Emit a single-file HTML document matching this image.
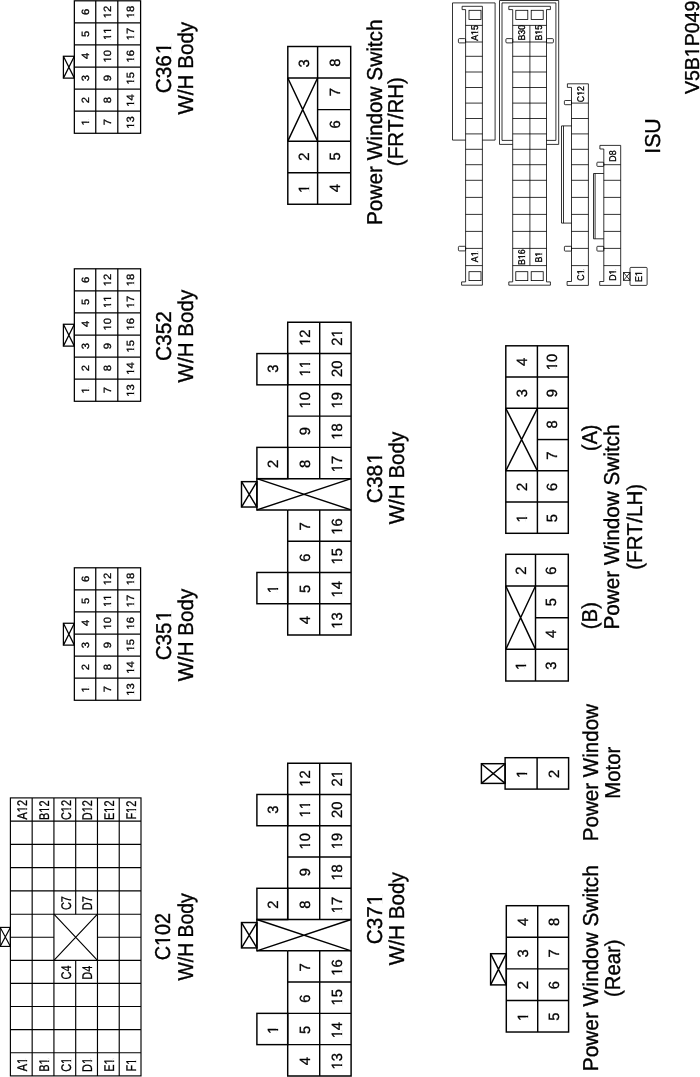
<!DOCTYPE html>
<html><head><meta charset="utf-8"><title>Connector configurations</title>
<style>
html,body{margin:0;padding:0;background:#fff;}
body{width:700px;height:1077px;overflow:hidden;font-family:"Liberation Sans",sans-serif;}
svg{display:block;will-change:transform;opacity:0.999;}
.m{fill:none;stroke:#000;stroke-width:1.45;stroke-linecap:butt;}
.w{fill:#fff;}
.x{stroke-linecap:butt;}
.g1 .m{stroke-width:1.15;}
.g2 .m{stroke-width:1.25;}
.k{fill:#fff;stroke:none;}
.i{fill:none;stroke:#000;stroke-width:0.8;}
text{font-family:"Liberation Sans",sans-serif;fill:#000;font-kerning:none;stroke:#000;stroke-width:0.36;text-rendering:geometricPrecision;}
.d{stroke-width:0.3;}
.e{stroke-width:0.34;}
</style></head><body>
<svg width="700" height="1077" viewBox="0 0 700 1077">
<rect x="0" y="0" width="700" height="1077" fill="#fff"/>
<g class="g2">
<rect class="m" x="74.35" y="0.80" width="66.25" height="132.48"/>
<path class="m" d="M95.75 0.80L95.75 133.28"/>
<path class="m" d="M117.80 0.80L117.80 133.28"/>
<path class="m" d="M74.35 22.88L140.60 22.88"/>
<path class="m" d="M74.35 44.96L140.60 44.96"/>
<path class="m" d="M74.35 67.04L140.60 67.04"/>
<path class="m" d="M74.35 89.12L140.60 89.12"/>
<path class="m" d="M74.35 111.20L140.60 111.20"/>
<rect class="m" x="63.40" y="56.26" width="10.95" height="21.86"/>
<path class="m x" d="M63.40 56.26L74.35 78.12M63.40 78.12L74.35 56.26"/>
<g transform="translate(89.03 125.52) rotate(-90) scale(1.0700 1)"><text class="d" font-size="10.5">1</text><rect class="k" x="0.21" y="-1.63" width="2.23" height="2.58"/><rect class="k" x="3.77" y="-1.63" width="2.07" height="2.58"/></g>
<g transform="translate(89.03 103.28) rotate(-90) scale(1.0700 1)"><text class="d" font-size="10.5">2</text></g>
<g transform="translate(89.03 81.17) rotate(-90) scale(1.0700 1)"><text class="d" font-size="10.5">3</text></g>
<g transform="translate(89.03 59.09) rotate(-90) scale(1.0700 1)"><text class="d" font-size="10.5">4</text></g>
<g transform="translate(89.03 37.03) rotate(-90) scale(1.0700 1)"><text class="d" font-size="10.5">5</text></g>
<g transform="translate(89.03 15.00) rotate(-90) scale(1.0700 1)"><text class="d" font-size="10.5">6</text></g>
<g transform="translate(111.46 125.37) rotate(-90) scale(1.0700 1)"><text class="d" font-size="10.5">7</text></g>
<g transform="translate(111.46 103.28) rotate(-90) scale(1.0700 1)"><text class="d" font-size="10.5">8</text></g>
<g transform="translate(111.46 81.20) rotate(-90) scale(1.0700 1)"><text class="d" font-size="10.5">9</text></g>
<g transform="translate(111.46 62.45) rotate(-90) scale(1.0700 1)"><text class="d" font-size="10.5">10</text><rect class="k" x="0.21" y="-1.63" width="2.23" height="2.58"/><rect class="k" x="3.77" y="-1.63" width="2.07" height="2.58"/></g>
<g transform="translate(111.46 39.90) rotate(-90) scale(1.0700 1)"><text class="d" font-size="10.5">11</text><rect class="k" x="0.21" y="-1.63" width="2.23" height="2.58"/><rect class="k" x="3.77" y="-1.63" width="2.07" height="2.58"/><rect class="k" x="6.05" y="-1.63" width="2.23" height="2.58"/><rect class="k" x="9.61" y="-1.63" width="2.07" height="2.58"/></g>
<g transform="translate(111.46 18.23) rotate(-90) scale(1.0700 1)"><text class="d" font-size="10.5">12</text><rect class="k" x="0.21" y="-1.63" width="2.23" height="2.58"/><rect class="k" x="3.77" y="-1.63" width="2.07" height="2.58"/></g>
<g transform="translate(133.68 128.67) rotate(-90) scale(1.0700 1)"><text class="d" font-size="10.5">13</text><rect class="k" x="0.21" y="-1.63" width="2.23" height="2.58"/><rect class="k" x="3.77" y="-1.63" width="2.07" height="2.58"/></g>
<g transform="translate(133.68 106.67) rotate(-90) scale(1.0700 1)"><text class="d" font-size="10.5">14</text><rect class="k" x="0.21" y="-1.63" width="2.23" height="2.58"/><rect class="k" x="3.77" y="-1.63" width="2.07" height="2.58"/></g>
<g transform="translate(133.68 84.52) rotate(-90) scale(1.0700 1)"><text class="d" font-size="10.5">15</text><rect class="k" x="0.21" y="-1.63" width="2.23" height="2.58"/><rect class="k" x="3.77" y="-1.63" width="2.07" height="2.58"/></g>
<g transform="translate(133.68 62.43) rotate(-90) scale(1.0700 1)"><text class="d" font-size="10.5">16</text><rect class="k" x="0.21" y="-1.63" width="2.23" height="2.58"/><rect class="k" x="3.77" y="-1.63" width="2.07" height="2.58"/></g>
<g transform="translate(133.68 40.31) rotate(-90) scale(1.0700 1)"><text class="d" font-size="10.5">17</text><rect class="k" x="0.21" y="-1.63" width="2.23" height="2.58"/><rect class="k" x="3.77" y="-1.63" width="2.07" height="2.58"/></g>
<g transform="translate(133.68 18.27) rotate(-90) scale(1.0700 1)"><text class="d" font-size="10.5">18</text><rect class="k" x="0.21" y="-1.63" width="2.23" height="2.58"/><rect class="k" x="3.77" y="-1.63" width="2.07" height="2.58"/></g>
<g transform="translate(170.70 93.36) rotate(-90) scale(0.9696 1)"><text class="t" font-size="21.5">C36<tspan dx="1.07">1</tspan></text><rect class="k" x="40.95" y="-2.49" width="4.75" height="3.47"/><rect class="k" x="48.05" y="-2.49" width="4.42" height="3.47"/></g>
<g transform="translate(192.80 114.60) rotate(-90) scale(0.9584 1)"><text class="t" font-size="21.5">W/H Body</text></g>
<rect class="m" x="74.35" y="268.80" width="66.25" height="132.48"/>
<path class="m" d="M95.75 268.80L95.75 401.28"/>
<path class="m" d="M117.80 268.80L117.80 401.28"/>
<path class="m" d="M74.35 290.88L140.60 290.88"/>
<path class="m" d="M74.35 312.96L140.60 312.96"/>
<path class="m" d="M74.35 335.04L140.60 335.04"/>
<path class="m" d="M74.35 357.12L140.60 357.12"/>
<path class="m" d="M74.35 379.20L140.60 379.20"/>
<rect class="m" x="63.40" y="324.26" width="10.95" height="21.86"/>
<path class="m x" d="M63.40 324.26L74.35 346.12M63.40 346.12L74.35 324.26"/>
<g transform="translate(89.03 393.52) rotate(-90) scale(1.0700 1)"><text class="d" font-size="10.5">1</text><rect class="k" x="0.21" y="-1.63" width="2.23" height="2.58"/><rect class="k" x="3.77" y="-1.63" width="2.07" height="2.58"/></g>
<g transform="translate(89.03 371.28) rotate(-90) scale(1.0700 1)"><text class="d" font-size="10.5">2</text></g>
<g transform="translate(89.03 349.17) rotate(-90) scale(1.0700 1)"><text class="d" font-size="10.5">3</text></g>
<g transform="translate(89.03 327.09) rotate(-90) scale(1.0700 1)"><text class="d" font-size="10.5">4</text></g>
<g transform="translate(89.03 305.03) rotate(-90) scale(1.0700 1)"><text class="d" font-size="10.5">5</text></g>
<g transform="translate(89.03 283.00) rotate(-90) scale(1.0700 1)"><text class="d" font-size="10.5">6</text></g>
<g transform="translate(111.46 393.37) rotate(-90) scale(1.0700 1)"><text class="d" font-size="10.5">7</text></g>
<g transform="translate(111.46 371.28) rotate(-90) scale(1.0700 1)"><text class="d" font-size="10.5">8</text></g>
<g transform="translate(111.46 349.20) rotate(-90) scale(1.0700 1)"><text class="d" font-size="10.5">9</text></g>
<g transform="translate(111.46 330.45) rotate(-90) scale(1.0700 1)"><text class="d" font-size="10.5">10</text><rect class="k" x="0.21" y="-1.63" width="2.23" height="2.58"/><rect class="k" x="3.77" y="-1.63" width="2.07" height="2.58"/></g>
<g transform="translate(111.46 307.90) rotate(-90) scale(1.0700 1)"><text class="d" font-size="10.5">11</text><rect class="k" x="0.21" y="-1.63" width="2.23" height="2.58"/><rect class="k" x="3.77" y="-1.63" width="2.07" height="2.58"/><rect class="k" x="6.05" y="-1.63" width="2.23" height="2.58"/><rect class="k" x="9.61" y="-1.63" width="2.07" height="2.58"/></g>
<g transform="translate(111.46 286.23) rotate(-90) scale(1.0700 1)"><text class="d" font-size="10.5">12</text><rect class="k" x="0.21" y="-1.63" width="2.23" height="2.58"/><rect class="k" x="3.77" y="-1.63" width="2.07" height="2.58"/></g>
<g transform="translate(133.68 396.67) rotate(-90) scale(1.0700 1)"><text class="d" font-size="10.5">13</text><rect class="k" x="0.21" y="-1.63" width="2.23" height="2.58"/><rect class="k" x="3.77" y="-1.63" width="2.07" height="2.58"/></g>
<g transform="translate(133.68 374.67) rotate(-90) scale(1.0700 1)"><text class="d" font-size="10.5">14</text><rect class="k" x="0.21" y="-1.63" width="2.23" height="2.58"/><rect class="k" x="3.77" y="-1.63" width="2.07" height="2.58"/></g>
<g transform="translate(133.68 352.52) rotate(-90) scale(1.0700 1)"><text class="d" font-size="10.5">15</text><rect class="k" x="0.21" y="-1.63" width="2.23" height="2.58"/><rect class="k" x="3.77" y="-1.63" width="2.07" height="2.58"/></g>
<g transform="translate(133.68 330.43) rotate(-90) scale(1.0700 1)"><text class="d" font-size="10.5">16</text><rect class="k" x="0.21" y="-1.63" width="2.23" height="2.58"/><rect class="k" x="3.77" y="-1.63" width="2.07" height="2.58"/></g>
<g transform="translate(133.68 308.31) rotate(-90) scale(1.0700 1)"><text class="d" font-size="10.5">17</text><rect class="k" x="0.21" y="-1.63" width="2.23" height="2.58"/><rect class="k" x="3.77" y="-1.63" width="2.07" height="2.58"/></g>
<g transform="translate(133.68 286.27) rotate(-90) scale(1.0700 1)"><text class="d" font-size="10.5">18</text><rect class="k" x="0.21" y="-1.63" width="2.23" height="2.58"/><rect class="k" x="3.77" y="-1.63" width="2.07" height="2.58"/></g>
<g transform="translate(170.70 361.07) rotate(-90) scale(0.9733 1)"><text class="t" font-size="21.5">C352</text></g>
<g transform="translate(192.80 382.40) rotate(-90) scale(0.9573 1)"><text class="t" font-size="21.5">W/H Body</text></g>
<rect class="m" x="74.35" y="567.80" width="66.25" height="132.48"/>
<path class="m" d="M95.75 567.80L95.75 700.28"/>
<path class="m" d="M117.80 567.80L117.80 700.28"/>
<path class="m" d="M74.35 589.88L140.60 589.88"/>
<path class="m" d="M74.35 611.96L140.60 611.96"/>
<path class="m" d="M74.35 634.04L140.60 634.04"/>
<path class="m" d="M74.35 656.12L140.60 656.12"/>
<path class="m" d="M74.35 678.20L140.60 678.20"/>
<rect class="m" x="63.40" y="623.26" width="10.95" height="21.86"/>
<path class="m x" d="M63.40 623.26L74.35 645.12M63.40 645.12L74.35 623.26"/>
<g transform="translate(89.03 692.52) rotate(-90) scale(1.0700 1)"><text class="d" font-size="10.5">1</text><rect class="k" x="0.21" y="-1.63" width="2.23" height="2.58"/><rect class="k" x="3.77" y="-1.63" width="2.07" height="2.58"/></g>
<g transform="translate(89.03 670.28) rotate(-90) scale(1.0700 1)"><text class="d" font-size="10.5">2</text></g>
<g transform="translate(89.03 648.17) rotate(-90) scale(1.0700 1)"><text class="d" font-size="10.5">3</text></g>
<g transform="translate(89.03 626.09) rotate(-90) scale(1.0700 1)"><text class="d" font-size="10.5">4</text></g>
<g transform="translate(89.03 604.03) rotate(-90) scale(1.0700 1)"><text class="d" font-size="10.5">5</text></g>
<g transform="translate(89.03 582.00) rotate(-90) scale(1.0700 1)"><text class="d" font-size="10.5">6</text></g>
<g transform="translate(111.46 692.37) rotate(-90) scale(1.0700 1)"><text class="d" font-size="10.5">7</text></g>
<g transform="translate(111.46 670.28) rotate(-90) scale(1.0700 1)"><text class="d" font-size="10.5">8</text></g>
<g transform="translate(111.46 648.20) rotate(-90) scale(1.0700 1)"><text class="d" font-size="10.5">9</text></g>
<g transform="translate(111.46 629.45) rotate(-90) scale(1.0700 1)"><text class="d" font-size="10.5">10</text><rect class="k" x="0.21" y="-1.63" width="2.23" height="2.58"/><rect class="k" x="3.77" y="-1.63" width="2.07" height="2.58"/></g>
<g transform="translate(111.46 606.90) rotate(-90) scale(1.0700 1)"><text class="d" font-size="10.5">11</text><rect class="k" x="0.21" y="-1.63" width="2.23" height="2.58"/><rect class="k" x="3.77" y="-1.63" width="2.07" height="2.58"/><rect class="k" x="6.05" y="-1.63" width="2.23" height="2.58"/><rect class="k" x="9.61" y="-1.63" width="2.07" height="2.58"/></g>
<g transform="translate(111.46 585.23) rotate(-90) scale(1.0700 1)"><text class="d" font-size="10.5">12</text><rect class="k" x="0.21" y="-1.63" width="2.23" height="2.58"/><rect class="k" x="3.77" y="-1.63" width="2.07" height="2.58"/></g>
<g transform="translate(133.68 695.67) rotate(-90) scale(1.0700 1)"><text class="d" font-size="10.5">13</text><rect class="k" x="0.21" y="-1.63" width="2.23" height="2.58"/><rect class="k" x="3.77" y="-1.63" width="2.07" height="2.58"/></g>
<g transform="translate(133.68 673.67) rotate(-90) scale(1.0700 1)"><text class="d" font-size="10.5">14</text><rect class="k" x="0.21" y="-1.63" width="2.23" height="2.58"/><rect class="k" x="3.77" y="-1.63" width="2.07" height="2.58"/></g>
<g transform="translate(133.68 651.52) rotate(-90) scale(1.0700 1)"><text class="d" font-size="10.5">15</text><rect class="k" x="0.21" y="-1.63" width="2.23" height="2.58"/><rect class="k" x="3.77" y="-1.63" width="2.07" height="2.58"/></g>
<g transform="translate(133.68 629.43) rotate(-90) scale(1.0700 1)"><text class="d" font-size="10.5">16</text><rect class="k" x="0.21" y="-1.63" width="2.23" height="2.58"/><rect class="k" x="3.77" y="-1.63" width="2.07" height="2.58"/></g>
<g transform="translate(133.68 607.31) rotate(-90) scale(1.0700 1)"><text class="d" font-size="10.5">17</text><rect class="k" x="0.21" y="-1.63" width="2.23" height="2.58"/><rect class="k" x="3.77" y="-1.63" width="2.07" height="2.58"/></g>
<g transform="translate(133.68 585.27) rotate(-90) scale(1.0700 1)"><text class="d" font-size="10.5">18</text><rect class="k" x="0.21" y="-1.63" width="2.23" height="2.58"/><rect class="k" x="3.77" y="-1.63" width="2.07" height="2.58"/></g>
<g transform="translate(170.70 660.35) rotate(-90) scale(0.9611 1)"><text class="t" font-size="21.5">C35<tspan dx="1.07">1</tspan></text><rect class="k" x="40.95" y="-2.49" width="4.75" height="3.47"/><rect class="k" x="48.05" y="-2.49" width="4.42" height="3.47"/></g>
<g transform="translate(192.80 681.30) rotate(-90) scale(0.9553 1)"><text class="t" font-size="21.5">W/H Body</text></g>
</g>
<g class="g1">
<rect class="m" x="10.40" y="797.90" width="130.60" height="278.00"/>
<path class="m" d="M32.17 797.90L32.17 1075.90"/>
<path class="m" d="M53.93 797.90L53.93 1075.90"/>
<path class="m" d="M75.70 797.90L75.70 914.20"/>
<path class="m" d="M75.70 960.30L75.70 1075.90"/>
<path class="m" d="M97.47 797.90L97.47 1075.90"/>
<path class="m" d="M119.23 797.90L119.23 1075.90"/>
<path class="m" d="M10.40 821.16L141.00 821.16"/>
<path class="m" d="M10.40 844.42L141.00 844.42"/>
<path class="m" d="M10.40 867.68L141.00 867.68"/>
<path class="m" d="M10.40 890.94L141.00 890.94"/>
<path class="m" d="M10.40 914.20L141.00 914.20"/>
<path class="m" d="M10.40 937.25L53.93 937.25"/>
<path class="m" d="M97.47 937.25L141.00 937.25"/>
<path class="m" d="M10.40 960.30L141.00 960.30"/>
<path class="m" d="M10.40 983.42L141.00 983.42"/>
<path class="m" d="M10.40 1006.54L141.00 1006.54"/>
<path class="m" d="M10.40 1029.66L141.00 1029.66"/>
<path class="m" d="M10.40 1052.78L141.00 1052.78"/>
<path class="m x" d="M53.93 914.20L97.47 960.30M53.93 960.30L97.47 914.20"/>
<rect class="m" x="0.20" y="927.40" width="10.20" height="19.00"/>
<path class="m x" d="M0.20 927.40L10.40 946.40M0.20 946.40L10.40 927.40"/>
<g transform="translate(27.07 819.48) rotate(-90) scale(0.7800 1)"><text class="d" font-size="14.0">A12</text><rect class="k" x="9.62" y="-1.90" width="3.04" height="2.85"/><rect class="k" x="14.30" y="-1.90" width="2.83" height="2.85"/></g>
<g transform="translate(27.07 1071.26) rotate(-90) scale(0.7800 1)"><text class="d" font-size="14.0">A1</text><rect class="k" x="9.62" y="-1.90" width="3.04" height="2.85"/><rect class="k" x="14.30" y="-1.90" width="2.83" height="2.85"/></g>
<g transform="translate(48.84 819.92) rotate(-90) scale(0.7800 1)"><text class="d" font-size="14.0">B12</text><rect class="k" x="9.62" y="-1.90" width="3.04" height="2.85"/><rect class="k" x="14.30" y="-1.90" width="2.83" height="2.85"/></g>
<g transform="translate(48.84 1071.70) rotate(-90) scale(0.7800 1)"><text class="d" font-size="14.0">B1</text><rect class="k" x="9.62" y="-1.90" width="3.04" height="2.85"/><rect class="k" x="14.30" y="-1.90" width="2.83" height="2.85"/></g>
<g transform="translate(70.61 820.05) rotate(-90) scale(0.7800 1)"><text class="d" font-size="14.0">C12</text><rect class="k" x="10.39" y="-1.90" width="3.04" height="2.85"/><rect class="k" x="15.07" y="-1.90" width="2.83" height="2.85"/></g>
<g transform="translate(70.61 1071.83) rotate(-90) scale(0.7800 1)"><text class="d" font-size="14.0">C1</text><rect class="k" x="10.39" y="-1.90" width="3.04" height="2.85"/><rect class="k" x="15.07" y="-1.90" width="2.83" height="2.85"/></g>
<g transform="translate(92.37 820.22) rotate(-90) scale(0.7800 1)"><text class="d" font-size="14.0">D12</text><rect class="k" x="10.39" y="-1.90" width="3.04" height="2.85"/><rect class="k" x="15.07" y="-1.90" width="2.83" height="2.85"/></g>
<g transform="translate(92.37 1072.00) rotate(-90) scale(0.7800 1)"><text class="d" font-size="14.0">D1</text><rect class="k" x="10.39" y="-1.90" width="3.04" height="2.85"/><rect class="k" x="15.07" y="-1.90" width="2.83" height="2.85"/></g>
<g transform="translate(114.14 819.92) rotate(-90) scale(0.7800 1)"><text class="d" font-size="14.0">E12</text><rect class="k" x="9.62" y="-1.90" width="3.04" height="2.85"/><rect class="k" x="14.30" y="-1.90" width="2.83" height="2.85"/></g>
<g transform="translate(114.14 1071.70) rotate(-90) scale(0.7800 1)"><text class="d" font-size="14.0">E1</text><rect class="k" x="9.62" y="-1.90" width="3.04" height="2.85"/><rect class="k" x="14.30" y="-1.90" width="2.83" height="2.85"/></g>
<g transform="translate(135.91 819.61) rotate(-90) scale(0.7800 1)"><text class="d" font-size="14.0">F12</text><rect class="k" x="8.83" y="-1.90" width="3.04" height="2.85"/><rect class="k" x="13.51" y="-1.90" width="2.83" height="2.85"/></g>
<g transform="translate(135.91 1071.39) rotate(-90) scale(0.7800 1)"><text class="d" font-size="14.0">F1</text><rect class="k" x="8.83" y="-1.90" width="3.04" height="2.85"/><rect class="k" x="13.51" y="-1.90" width="2.83" height="2.85"/></g>
<g transform="translate(70.61 910.05) rotate(-90) scale(0.7800 1)"><text class="d" font-size="14.0">C7</text></g>
<g transform="translate(70.61 979.46) rotate(-90) scale(0.7800 1)"><text class="d" font-size="14.0">C4</text></g>
<g transform="translate(92.37 910.22) rotate(-90) scale(0.7800 1)"><text class="d" font-size="14.0">D7</text></g>
<g transform="translate(92.37 979.63) rotate(-90) scale(0.7800 1)"><text class="d" font-size="14.0">D4</text></g>
<g transform="translate(170.00 960.21) rotate(-90) scale(0.9205 1)"><text class="t" font-size="21.5">C102</text><rect class="k" x="15.96" y="-2.49" width="4.75" height="3.47"/><rect class="k" x="23.06" y="-2.49" width="4.42" height="3.47"/></g>
<g transform="translate(192.80 980.50) rotate(-90) scale(0.9015 1)"><text class="t" font-size="21.5">W/H Body</text></g>
</g>
<path class="m" d="M287.70 478.65V322.30H351.10V635.00H287.70V509.92"/>
<path class="m" d="M319.70 322.30L319.70 478.65"/>
<path class="m" d="M319.70 509.92L319.70 635.00"/>
<path class="m" d="M287.70 353.57L351.10 353.57"/>
<path class="m" d="M287.70 384.84L351.10 384.84"/>
<path class="m" d="M287.70 416.11L351.10 416.11"/>
<path class="m" d="M287.70 447.38L351.10 447.38"/>
<path class="m" d="M287.70 478.65L351.10 478.65"/>
<path class="m" d="M287.70 509.92L351.10 509.92"/>
<path class="m" d="M287.70 541.19L351.10 541.19"/>
<path class="m" d="M287.70 572.46L351.10 572.46"/>
<path class="m" d="M287.70 603.73L351.10 603.73"/>
<rect class="m" x="256.90" y="353.57" width="30.80" height="31.27"/>
<rect class="m" x="256.90" y="447.38" width="30.80" height="31.27"/>
<rect class="m" x="256.90" y="572.46" width="30.80" height="31.27"/>
<path class="m x" d="M256.90 478.65L351.10 509.92M256.90 509.92L351.10 478.65"/>
<path class="m" d="M287.70 478.65H256.90V509.92H287.70"/>
<rect class="m" x="241.50" y="481.65" width="15.40" height="25.37"/>
<path class="m x" d="M241.50 481.65L256.90 507.02M241.50 507.02L256.90 481.65"/>
<g transform="translate(278.03 372.78) rotate(-90) scale(1.0000 1)"><text class="d" font-size="14.8">3</text></g>
<g transform="translate(278.03 467.93) rotate(-90) scale(1.0000 1)"><text class="d" font-size="14.8">2</text></g>
<g transform="translate(278.03 593.21) rotate(-90) scale(1.0000 1)"><text class="d" font-size="14.8">1</text><rect class="k" x="0.30" y="-1.96" width="3.23" height="2.91"/><rect class="k" x="5.23" y="-1.96" width="3.00" height="2.91"/></g>
<g transform="translate(310.03 345.86) rotate(-90) scale(1.0000 1)"><text class="d" font-size="14.8">12</text><rect class="k" x="0.30" y="-1.96" width="3.23" height="2.91"/><rect class="k" x="5.23" y="-1.96" width="3.00" height="2.91"/></g>
<g transform="translate(341.73 345.67) rotate(-90) scale(1.0000 1)"><text class="d" font-size="14.8">21</text><rect class="k" x="8.53" y="-1.96" width="3.23" height="2.91"/><rect class="k" x="13.46" y="-1.96" width="3.00" height="2.91"/></g>
<g transform="translate(310.03 376.59) rotate(-90) scale(1.0000 1)"><text class="d" font-size="14.8">11</text><rect class="k" x="0.30" y="-1.96" width="3.23" height="2.91"/><rect class="k" x="5.23" y="-1.96" width="3.00" height="2.91"/><rect class="k" x="8.53" y="-1.96" width="3.23" height="2.91"/><rect class="k" x="13.46" y="-1.96" width="3.00" height="2.91"/></g>
<g transform="translate(341.73 377.02) rotate(-90) scale(1.0000 1)"><text class="d" font-size="14.8">20</text></g>
<g transform="translate(310.03 408.48) rotate(-90) scale(1.0000 1)"><text class="d" font-size="14.8">10</text><rect class="k" x="0.30" y="-1.96" width="3.23" height="2.91"/><rect class="k" x="5.23" y="-1.96" width="3.00" height="2.91"/></g>
<g transform="translate(341.73 408.42) rotate(-90) scale(1.0000 1)"><text class="d" font-size="14.8">19</text><rect class="k" x="0.30" y="-1.96" width="3.23" height="2.91"/><rect class="k" x="5.23" y="-1.96" width="3.00" height="2.91"/></g>
<g transform="translate(310.03 435.36) rotate(-90) scale(1.0000 1)"><text class="d" font-size="14.8">9</text></g>
<g transform="translate(341.73 439.72) rotate(-90) scale(1.0000 1)"><text class="d" font-size="14.8">18</text><rect class="k" x="0.30" y="-1.96" width="3.23" height="2.91"/><rect class="k" x="5.23" y="-1.96" width="3.00" height="2.91"/></g>
<g transform="translate(310.03 467.93) rotate(-90) scale(1.0000 1)"><text class="d" font-size="14.8">8</text></g>
<g transform="translate(341.73 472.24) rotate(-90) scale(1.0000 1)"><text class="d" font-size="14.8">17</text><rect class="k" x="0.30" y="-1.96" width="3.23" height="2.91"/><rect class="k" x="5.23" y="-1.96" width="3.00" height="2.91"/></g>
<g transform="translate(310.03 530.48) rotate(-90) scale(1.0000 1)"><text class="d" font-size="14.8">7</text></g>
<g transform="translate(341.73 534.82) rotate(-90) scale(1.0000 1)"><text class="d" font-size="14.8">16</text><rect class="k" x="0.30" y="-1.96" width="3.23" height="2.91"/><rect class="k" x="5.23" y="-1.96" width="3.00" height="2.91"/></g>
<g transform="translate(310.03 561.79) rotate(-90) scale(1.0000 1)"><text class="d" font-size="14.8">6</text></g>
<g transform="translate(341.73 564.51) rotate(-90) scale(1.0000 1)"><text class="d" font-size="14.8">15</text><rect class="k" x="0.30" y="-1.96" width="3.23" height="2.91"/><rect class="k" x="5.23" y="-1.96" width="3.00" height="2.91"/></g>
<g transform="translate(310.03 592.99) rotate(-90) scale(1.0000 1)"><text class="d" font-size="14.8">5</text></g>
<g transform="translate(341.73 597.47) rotate(-90) scale(1.0000 1)"><text class="d" font-size="14.8">14</text><rect class="k" x="0.30" y="-1.96" width="3.23" height="2.91"/><rect class="k" x="5.23" y="-1.96" width="3.00" height="2.91"/></g>
<g transform="translate(310.03 624.24) rotate(-90) scale(1.0000 1)"><text class="d" font-size="14.8">4</text></g>
<g transform="translate(341.73 628.63) rotate(-90) scale(1.0000 1)"><text class="d" font-size="14.8">13</text><rect class="k" x="0.30" y="-1.96" width="3.23" height="2.91"/><rect class="k" x="5.23" y="-1.96" width="3.00" height="2.91"/></g>
<g transform="translate(381.90 503.17) rotate(-90) scale(0.9718 1)"><text class="t" font-size="21.5">C38<tspan dx="1.07">1</tspan></text><rect class="k" x="40.95" y="-2.49" width="4.75" height="3.47"/><rect class="k" x="48.05" y="-2.49" width="4.42" height="3.47"/></g>
<g transform="translate(404.20 524.30) rotate(-90) scale(0.9563 1)"><text class="t" font-size="21.5">W/H Body</text></g>
<path class="m" d="M287.70 919.55V763.20H351.10V1075.90H287.70V950.82"/>
<path class="m" d="M319.70 763.20L319.70 919.55"/>
<path class="m" d="M319.70 950.82L319.70 1075.90"/>
<path class="m" d="M287.70 794.47L351.10 794.47"/>
<path class="m" d="M287.70 825.74L351.10 825.74"/>
<path class="m" d="M287.70 857.01L351.10 857.01"/>
<path class="m" d="M287.70 888.28L351.10 888.28"/>
<path class="m" d="M287.70 919.55L351.10 919.55"/>
<path class="m" d="M287.70 950.82L351.10 950.82"/>
<path class="m" d="M287.70 982.09L351.10 982.09"/>
<path class="m" d="M287.70 1013.36L351.10 1013.36"/>
<path class="m" d="M287.70 1044.63L351.10 1044.63"/>
<rect class="m" x="256.90" y="794.47" width="30.80" height="31.27"/>
<rect class="m" x="256.90" y="888.28" width="30.80" height="31.27"/>
<rect class="m" x="256.90" y="1013.36" width="30.80" height="31.27"/>
<path class="m x" d="M256.90 919.55L351.10 950.82M256.90 950.82L351.10 919.55"/>
<path class="m" d="M287.70 919.55H256.90V950.82H287.70"/>
<rect class="m" x="241.50" y="922.55" width="15.40" height="25.37"/>
<path class="m x" d="M241.50 922.55L256.90 947.92M241.50 947.92L256.90 922.55"/>
<g transform="translate(278.03 813.68) rotate(-90) scale(1.0000 1)"><text class="d" font-size="14.8">3</text></g>
<g transform="translate(278.03 908.83) rotate(-90) scale(1.0000 1)"><text class="d" font-size="14.8">2</text></g>
<g transform="translate(278.03 1034.11) rotate(-90) scale(1.0000 1)"><text class="d" font-size="14.8">1</text><rect class="k" x="0.30" y="-1.96" width="3.23" height="2.91"/><rect class="k" x="5.23" y="-1.96" width="3.00" height="2.91"/></g>
<g transform="translate(310.03 786.76) rotate(-90) scale(1.0000 1)"><text class="d" font-size="14.8">12</text><rect class="k" x="0.30" y="-1.96" width="3.23" height="2.91"/><rect class="k" x="5.23" y="-1.96" width="3.00" height="2.91"/></g>
<g transform="translate(341.73 786.57) rotate(-90) scale(1.0000 1)"><text class="d" font-size="14.8">21</text><rect class="k" x="8.53" y="-1.96" width="3.23" height="2.91"/><rect class="k" x="13.46" y="-1.96" width="3.00" height="2.91"/></g>
<g transform="translate(310.03 817.49) rotate(-90) scale(1.0000 1)"><text class="d" font-size="14.8">11</text><rect class="k" x="0.30" y="-1.96" width="3.23" height="2.91"/><rect class="k" x="5.23" y="-1.96" width="3.00" height="2.91"/><rect class="k" x="8.53" y="-1.96" width="3.23" height="2.91"/><rect class="k" x="13.46" y="-1.96" width="3.00" height="2.91"/></g>
<g transform="translate(341.73 817.92) rotate(-90) scale(1.0000 1)"><text class="d" font-size="14.8">20</text></g>
<g transform="translate(310.03 849.38) rotate(-90) scale(1.0000 1)"><text class="d" font-size="14.8">10</text><rect class="k" x="0.30" y="-1.96" width="3.23" height="2.91"/><rect class="k" x="5.23" y="-1.96" width="3.00" height="2.91"/></g>
<g transform="translate(341.73 849.32) rotate(-90) scale(1.0000 1)"><text class="d" font-size="14.8">19</text><rect class="k" x="0.30" y="-1.96" width="3.23" height="2.91"/><rect class="k" x="5.23" y="-1.96" width="3.00" height="2.91"/></g>
<g transform="translate(310.03 876.26) rotate(-90) scale(1.0000 1)"><text class="d" font-size="14.8">9</text></g>
<g transform="translate(341.73 880.62) rotate(-90) scale(1.0000 1)"><text class="d" font-size="14.8">18</text><rect class="k" x="0.30" y="-1.96" width="3.23" height="2.91"/><rect class="k" x="5.23" y="-1.96" width="3.00" height="2.91"/></g>
<g transform="translate(310.03 908.83) rotate(-90) scale(1.0000 1)"><text class="d" font-size="14.8">8</text></g>
<g transform="translate(341.73 913.14) rotate(-90) scale(1.0000 1)"><text class="d" font-size="14.8">17</text><rect class="k" x="0.30" y="-1.96" width="3.23" height="2.91"/><rect class="k" x="5.23" y="-1.96" width="3.00" height="2.91"/></g>
<g transform="translate(310.03 971.38) rotate(-90) scale(1.0000 1)"><text class="d" font-size="14.8">7</text></g>
<g transform="translate(341.73 975.72) rotate(-90) scale(1.0000 1)"><text class="d" font-size="14.8">16</text><rect class="k" x="0.30" y="-1.96" width="3.23" height="2.91"/><rect class="k" x="5.23" y="-1.96" width="3.00" height="2.91"/></g>
<g transform="translate(310.03 1002.69) rotate(-90) scale(1.0000 1)"><text class="d" font-size="14.8">6</text></g>
<g transform="translate(341.73 1005.41) rotate(-90) scale(1.0000 1)"><text class="d" font-size="14.8">15</text><rect class="k" x="0.30" y="-1.96" width="3.23" height="2.91"/><rect class="k" x="5.23" y="-1.96" width="3.00" height="2.91"/></g>
<g transform="translate(310.03 1033.89) rotate(-90) scale(1.0000 1)"><text class="d" font-size="14.8">5</text></g>
<g transform="translate(341.73 1038.37) rotate(-90) scale(1.0000 1)"><text class="d" font-size="14.8">14</text><rect class="k" x="0.30" y="-1.96" width="3.23" height="2.91"/><rect class="k" x="5.23" y="-1.96" width="3.00" height="2.91"/></g>
<g transform="translate(310.03 1065.13) rotate(-90) scale(1.0000 1)"><text class="d" font-size="14.8">4</text></g>
<g transform="translate(341.73 1069.53) rotate(-90) scale(1.0000 1)"><text class="d" font-size="14.8">13</text><rect class="k" x="0.30" y="-1.96" width="3.23" height="2.91"/><rect class="k" x="5.23" y="-1.96" width="3.00" height="2.91"/></g>
<g transform="translate(381.70 944.26) rotate(-90) scale(0.9632 1)"><text class="t" font-size="21.5">C37<tspan dx="1.07">1</tspan></text><rect class="k" x="40.95" y="-2.49" width="4.75" height="3.47"/><rect class="k" x="48.05" y="-2.49" width="4.42" height="3.47"/></g>
<g transform="translate(404.20 965.20) rotate(-90) scale(0.9615 1)"><text class="t" font-size="21.5">W/H Body</text></g>
<rect class="m" x="287.80" y="46.50" width="62.90" height="157.75"/>
<path class="m" d="M317.60 46.50L317.60 204.25"/>
<path class="m" d="M287.80 78.05L350.70 78.05"/>
<path class="m" d="M287.80 141.15L350.70 141.15"/>
<path class="m" d="M287.80 172.70L350.70 172.70"/>
<path class="m" d="M317.60 109.60L350.70 109.60"/>
<path class="m x" d="M287.80 78.05L317.60 141.15M287.80 141.15L317.60 78.05"/>
<g transform="translate(308.53 67.54) rotate(-90) scale(1.0000 1)"><text class="d" font-size="14.8">3</text></g>
<g transform="translate(308.53 160.84) rotate(-90) scale(1.0000 1)"><text class="d" font-size="14.8">2</text></g>
<g transform="translate(308.53 192.89) rotate(-90) scale(1.0000 1)"><text class="d" font-size="14.8">1</text><rect class="k" x="0.30" y="-1.96" width="3.23" height="2.91"/><rect class="k" x="5.23" y="-1.96" width="3.00" height="2.91"/></g>
<g transform="translate(339.98 66.79) rotate(-90) scale(1.0000 1)"><text class="d" font-size="14.8">8</text></g>
<g transform="translate(339.98 96.35) rotate(-90) scale(1.0000 1)"><text class="d" font-size="14.8">7</text></g>
<g transform="translate(339.98 128.44) rotate(-90) scale(1.0000 1)"><text class="d" font-size="14.8">6</text></g>
<g transform="translate(339.98 160.42) rotate(-90) scale(1.0000 1)"><text class="d" font-size="14.8">5</text></g>
<g transform="translate(339.98 192.14) rotate(-90) scale(1.0000 1)"><text class="d" font-size="14.8">4</text></g>
<g transform="translate(381.50 225.00) rotate(-90) scale(0.9665 1)"><text class="t" font-size="21.5">Power Window Switch</text></g>
<g transform="translate(403.30 166.18) rotate(-90) scale(0.9569 1)"><text class="t" font-size="21.5">(FRT/RH)</text></g>
<rect class="m" x="505.80" y="345.80" width="62.50" height="187.50"/>
<path class="m" d="M537.40 345.80L537.40 533.30"/>
<path class="m" d="M505.80 377.05L568.30 377.05"/>
<path class="m" d="M505.80 408.30L568.30 408.30"/>
<path class="m" d="M505.80 470.80L568.30 470.80"/>
<path class="m" d="M505.80 502.05L568.30 502.05"/>
<path class="m" d="M537.40 439.55L568.30 439.55"/>
<path class="m x" d="M505.80 408.30L537.40 470.80M505.80 470.80L537.40 408.30"/>
<g transform="translate(527.13 365.89) rotate(-90) scale(1.0000 1)"><text class="d" font-size="14.8">4</text></g>
<g transform="translate(527.13 397.14) rotate(-90) scale(1.0000 1)"><text class="d" font-size="14.8">3</text></g>
<g transform="translate(527.13 490.94) rotate(-90) scale(1.0000 1)"><text class="d" font-size="14.8">2</text></g>
<g transform="translate(527.13 522.39) rotate(-90) scale(1.0000 1)"><text class="d" font-size="14.8">1</text><rect class="k" x="0.30" y="-1.96" width="3.23" height="2.91"/><rect class="k" x="5.23" y="-1.96" width="3.00" height="2.91"/></g>
<g transform="translate(557.18 370.33) rotate(-90) scale(1.0000 1)"><text class="d" font-size="14.8">10</text><rect class="k" x="0.30" y="-1.96" width="3.23" height="2.91"/><rect class="k" x="5.23" y="-1.96" width="3.00" height="2.91"/></g>
<g transform="translate(557.18 397.19) rotate(-90) scale(1.0000 1)"><text class="d" font-size="14.8">9</text></g>
<g transform="translate(557.18 428.44) rotate(-90) scale(1.0000 1)"><text class="d" font-size="14.8">8</text></g>
<g transform="translate(557.18 459.70) rotate(-90) scale(1.0000 1)"><text class="d" font-size="14.8">7</text></g>
<g transform="translate(557.18 490.99) rotate(-90) scale(1.0000 1)"><text class="d" font-size="14.8">6</text></g>
<g transform="translate(557.18 522.17) rotate(-90) scale(1.0000 1)"><text class="d" font-size="14.8">5</text></g>
<rect class="m" x="505.80" y="554.30" width="62.50" height="126.72"/>
<path class="m" d="M535.50 554.30L535.50 681.02"/>
<path class="m" d="M505.80 585.98L568.30 585.98"/>
<path class="m" d="M505.80 649.34L568.30 649.34"/>
<path class="m" d="M535.50 617.66L568.30 617.66"/>
<path class="m x" d="M505.80 585.98L535.50 649.34M505.80 649.34L535.50 585.98"/>
<g transform="translate(526.18 574.65) rotate(-90) scale(1.0000 1)"><text class="d" font-size="14.8">2</text></g>
<g transform="translate(526.18 669.89) rotate(-90) scale(1.0000 1)"><text class="d" font-size="14.8">1</text><rect class="k" x="0.30" y="-1.96" width="3.23" height="2.91"/><rect class="k" x="5.23" y="-1.96" width="3.00" height="2.91"/></g>
<g transform="translate(556.23 574.71) rotate(-90) scale(1.0000 1)"><text class="d" font-size="14.8">6</text></g>
<g transform="translate(556.23 606.32) rotate(-90) scale(1.0000 1)"><text class="d" font-size="14.8">5</text></g>
<g transform="translate(556.23 637.97) rotate(-90) scale(1.0000 1)"><text class="d" font-size="14.8">4</text></g>
<g transform="translate(556.23 669.65) rotate(-90) scale(1.0000 1)"><text class="d" font-size="14.8">3</text></g>
<g transform="translate(597.20 450.93) rotate(-90) scale(0.9195 1)"><text class="t" font-size="21.5">(A)</text></g>
<g transform="translate(597.20 629.16) rotate(-90) scale(0.9464 1)"><text class="t" font-size="21.5">(B)</text></g>
<g transform="translate(619.00 629.60) rotate(-90) scale(0.9646 1)"><text class="t" font-size="21.5">Power Window Switch</text></g>
<g transform="translate(641.50 569.78) rotate(-90) scale(0.9594 1)"><text class="t" font-size="21.5">(FRT/LH)</text></g>
<rect class="m" x="505.10" y="757.70" width="63.50" height="31.40"/>
<path class="m" d="M537.10 757.70L537.10 789.10"/>
<rect class="m" x="481.40" y="763.70" width="23.70" height="19.70"/>
<path class="m x" d="M481.40 763.70L505.10 783.40M481.40 783.40L505.10 763.70"/>
<g transform="translate(526.93 778.11) rotate(-90) scale(1.0000 1)"><text class="d" font-size="14.8">1</text><rect class="k" x="0.30" y="-1.96" width="3.23" height="2.91"/><rect class="k" x="5.23" y="-1.96" width="3.00" height="2.91"/></g>
<g transform="translate(558.68 777.91) rotate(-90) scale(1.0000 1)"><text class="d" font-size="14.8">2</text></g>
<g transform="translate(597.60 841.29) rotate(-90) scale(0.9572 1)"><text class="t" font-size="21.5">Power Window</text></g>
<g transform="translate(619.50 798.67) rotate(-90) scale(0.9465 1)"><text class="t" font-size="21.5">Motor</text></g>
<rect class="m" x="506.30" y="905.70" width="62.30" height="126.32"/>
<path class="m" d="M537.70 905.70L537.70 1032.02"/>
<path class="m" d="M506.30 937.28L568.60 937.28"/>
<path class="m" d="M506.30 968.86L568.60 968.86"/>
<path class="m" d="M506.30 1000.44L568.60 1000.44"/>
<rect class="m" x="490.60" y="953.70" width="15.70" height="31.20"/>
<path class="m x" d="M490.60 953.70L506.30 984.90M490.60 984.90L506.30 953.70"/>
<g transform="translate(527.83 925.96) rotate(-90) scale(1.0000 1)"><text class="d" font-size="14.8">4</text></g>
<g transform="translate(558.98 926.00) rotate(-90) scale(1.0000 1)"><text class="d" font-size="14.8">8</text></g>
<g transform="translate(527.83 957.54) rotate(-90) scale(1.0000 1)"><text class="d" font-size="14.8">3</text></g>
<g transform="translate(558.98 957.59) rotate(-90) scale(1.0000 1)"><text class="d" font-size="14.8">7</text></g>
<g transform="translate(527.83 989.16) rotate(-90) scale(1.0000 1)"><text class="d" font-size="14.8">2</text></g>
<g transform="translate(558.98 989.22) rotate(-90) scale(1.0000 1)"><text class="d" font-size="14.8">6</text></g>
<g transform="translate(527.83 1020.94) rotate(-90) scale(1.0000 1)"><text class="d" font-size="14.8">1</text><rect class="k" x="0.30" y="-1.96" width="3.23" height="2.91"/><rect class="k" x="5.23" y="-1.96" width="3.00" height="2.91"/></g>
<g transform="translate(558.98 1020.73) rotate(-90) scale(1.0000 1)"><text class="d" font-size="14.8">5</text></g>
<g transform="translate(597.50 1071.21) rotate(-90) scale(0.9689 1)"><text class="t" font-size="21.5">Power Window Switch</text></g>
<g transform="translate(619.70 997.06) rotate(-90) scale(0.9474 1)"><text class="t" font-size="21.5">(Rear)</text></g>
<g transform="translate(660.00 153.76) rotate(-90) scale(0.9905 1)"><text class="t" font-size="21.5">ISU</text></g>
<g transform="translate(699.40 94.10) rotate(-90) scale(0.9671 1)"><text class="t" font-size="20.2">V5B1P049</text><rect class="k" x="38.59" y="-2.39" width="4.45" height="3.37"/><rect class="k" x="45.28" y="-2.39" width="4.14" height="3.37"/></g>
<path class="i" d="M465.6 140.1H452.5V2.9H495.1V140.1H482.4"/>
<path class="i" d="M462.1 6.3H482.4V285.2H461.6V281.9H465.6V9.6H462.1Z"/>
<path class="i" d="M465.6 25.4H482.4"/>
<path class="i" d="M465.6 42.0H482.4"/>
<path class="i" d="M465.6 56.3H482.4"/>
<path class="i" d="M465.6 72.0H482.4"/>
<path class="i" d="M465.6 87.5H482.4"/>
<path class="i" d="M465.6 103.1H482.4"/>
<path class="i" d="M465.6 118.5H482.4"/>
<path class="i" d="M465.6 133.9H482.4"/>
<path class="i" d="M465.6 149.3H482.4"/>
<path class="i" d="M465.6 164.7H482.4"/>
<path class="i" d="M465.6 180.3H482.4"/>
<path class="i" d="M465.6 197.4H482.4"/>
<path class="i" d="M465.6 214.4H482.4"/>
<path class="i" d="M465.6 231.4H482.4"/>
<path class="i" d="M465.6 248.4H482.4"/>
<path class="i" d="M465.6 265.6H482.4"/>
<rect class="i" x="469" y="10.3" width="12" height="9.1"/>
<rect class="i" x="469" y="271.7" width="12" height="8.9"/>
<rect class="i" x="458.4" y="38.6" width="7.2" height="4.3" rx="1"/>
<rect class="i" x="458.4" y="246.3" width="7.2" height="4.6" rx="1"/>
<path class="i" d="M512.7 144.4H499.5V0.5H558.7V144.4H546.5"/>
<path class="i" d="M512.7 140.4H502.0V2.9H555.9V140.4H546.5"/>
<path class="i" d="M508.8 6.3H550.4V9.6H546.5V281.9H550.4V285.2H508.8V281.9H512.7V9.6H508.8Z"/>
<path class="i" d="M529.9 25.4V265.6"/>
<path class="i" d="M512.7 25.4H546.5"/>
<path class="i" d="M512.7 42.0H546.5"/>
<path class="i" d="M512.7 56.3H546.5"/>
<path class="i" d="M512.7 72.0H546.5"/>
<path class="i" d="M512.7 87.5H546.5"/>
<path class="i" d="M512.7 103.1H546.5"/>
<path class="i" d="M512.7 118.5H546.5"/>
<path class="i" d="M512.7 133.9H546.5"/>
<path class="i" d="M512.7 149.3H546.5"/>
<path class="i" d="M512.7 164.7H546.5"/>
<path class="i" d="M512.7 180.3H546.5"/>
<path class="i" d="M512.7 197.4H546.5"/>
<path class="i" d="M512.7 214.4H546.5"/>
<path class="i" d="M512.7 231.4H546.5"/>
<path class="i" d="M512.7 248.4H546.5"/>
<path class="i" d="M512.7 265.6H546.5"/>
<rect class="i" x="515.8" y="10.3" width="12" height="9.1"/>
<rect class="i" x="515.8" y="271.7" width="12" height="8.9"/>
<rect class="i" x="531.2" y="10.3" width="12" height="9.1"/>
<rect class="i" x="531.2" y="271.7" width="12" height="8.9"/>
<rect class="i" x="505.9" y="38.6" width="6.9" height="4.3" rx="1"/>
<rect class="i" x="546.5" y="38.6" width="6.9" height="4.3" rx="1"/>
<path class="i" d="M567.4 83.8H588.4V285.4H567.1V281.5H571.5V87.4H567.4Z"/>
<path class="i" d="M571.5 103.1H588.4"/>
<path class="i" d="M571.5 118.5H588.4"/>
<path class="i" d="M571.5 133.9H588.4"/>
<path class="i" d="M571.5 149.3H588.4"/>
<path class="i" d="M571.5 164.7H588.4"/>
<path class="i" d="M571.5 180.3H588.4"/>
<path class="i" d="M571.5 197.4H588.4"/>
<path class="i" d="M571.5 214.4H588.4"/>
<path class="i" d="M571.5 231.4H588.4"/>
<path class="i" d="M571.5 248.4H588.4"/>
<path class="i" d="M571.5 265.6H588.4"/>
<rect class="i" x="564.4" y="100.5" width="7.1" height="4.2" rx="0.8"/>
<rect class="i" x="564.4" y="246.3" width="7.1" height="4.8" rx="0.8"/>
<path class="i" d="M571.5 125.9H561.5V223.1H571.5M563.5 125.9V223.1"/>
<path class="i" d="M599.9 145.4H620.7V285.4H599.7V281.5H603.8V149.0H599.9Z"/>
<path class="i" d="M603.8 164.7H620.7"/>
<path class="i" d="M603.8 180.3H620.7"/>
<path class="i" d="M603.8 197.4H620.7"/>
<path class="i" d="M603.8 214.4H620.7"/>
<path class="i" d="M603.8 231.4H620.7"/>
<path class="i" d="M603.8 248.4H620.7"/>
<path class="i" d="M603.8 265.6H620.7"/>
<rect class="i" x="596.9" y="162.2" width="6.9" height="4.2" rx="0.8"/>
<rect class="i" x="596.9" y="246.3" width="6.9" height="4.8" rx="0.8"/>
<path class="i" d="M603.8 173.5H593.5V238.8H603.8M595.1 173.5V238.8"/>
<rect class="i" x="630" y="267.4" width="17.1" height="18" rx="1"/>
<rect class="i" x="623.6" y="272.6" width="6.4" height="7.7"/>
<path class="i" d="M623.6 272.6L630 280.3M623.6 280.3L630 272.6"/>
<g transform="translate(477.53 40.77) rotate(-90) scale(0.9000 1)"><text class="e" font-size="9.8">A15</text><rect class="k" x="6.73" y="-1.60" width="2.05" height="2.57"/><rect class="k" x="10.09" y="-1.60" width="1.90" height="2.57"/></g>
<g transform="translate(477.53 262.19) rotate(-90) scale(0.9000 1)"><text class="e" font-size="9.8">A1</text><rect class="k" x="6.73" y="-1.60" width="2.05" height="2.57"/><rect class="k" x="10.09" y="-1.60" width="1.90" height="2.57"/></g>
<g transform="translate(524.83 40.54) rotate(-90) scale(0.9000 1)"><text class="e" font-size="9.8">B30</text></g>
<g transform="translate(541.73 40.52) rotate(-90) scale(0.9000 1)"><text class="e" font-size="9.8">B15</text><rect class="k" x="6.73" y="-1.60" width="2.05" height="2.57"/><rect class="k" x="10.09" y="-1.60" width="1.90" height="2.57"/></g>
<g transform="translate(524.83 265.01) rotate(-90) scale(0.9000 1)"><text class="e" font-size="9.8">B16</text><rect class="k" x="6.73" y="-1.60" width="2.05" height="2.57"/><rect class="k" x="10.09" y="-1.60" width="1.90" height="2.57"/></g>
<g transform="translate(541.73 262.54) rotate(-90) scale(0.9000 1)"><text class="e" font-size="9.8">B1</text><rect class="k" x="6.73" y="-1.60" width="2.05" height="2.57"/><rect class="k" x="10.09" y="-1.60" width="1.90" height="2.57"/></g>
<g transform="translate(583.53 102.19) rotate(-90) scale(0.9000 1)"><text class="e" font-size="9.8">C12</text><rect class="k" x="7.27" y="-1.60" width="2.05" height="2.57"/><rect class="k" x="10.63" y="-1.60" width="1.90" height="2.57"/></g>
<g transform="translate(583.53 280.69) rotate(-90) scale(0.9000 1)"><text class="e" font-size="9.8">C1</text><rect class="k" x="7.27" y="-1.60" width="2.05" height="2.57"/><rect class="k" x="10.63" y="-1.60" width="1.90" height="2.57"/></g>
<g transform="translate(616.03 161.66) rotate(-90) scale(0.9000 1)"><text class="e" font-size="9.8">D8</text></g>
<g transform="translate(616.03 280.83) rotate(-90) scale(0.9000 1)"><text class="e" font-size="9.8">D1</text><rect class="k" x="7.27" y="-1.60" width="2.05" height="2.57"/><rect class="k" x="10.63" y="-1.60" width="1.90" height="2.57"/></g>
<g transform="translate(642.33 281.94) rotate(-90) scale(0.9000 1)"><text class="e" font-size="9.8">E1</text><rect class="k" x="6.73" y="-1.60" width="2.05" height="2.57"/><rect class="k" x="10.09" y="-1.60" width="1.90" height="2.57"/></g>
</svg>
</body></html>
